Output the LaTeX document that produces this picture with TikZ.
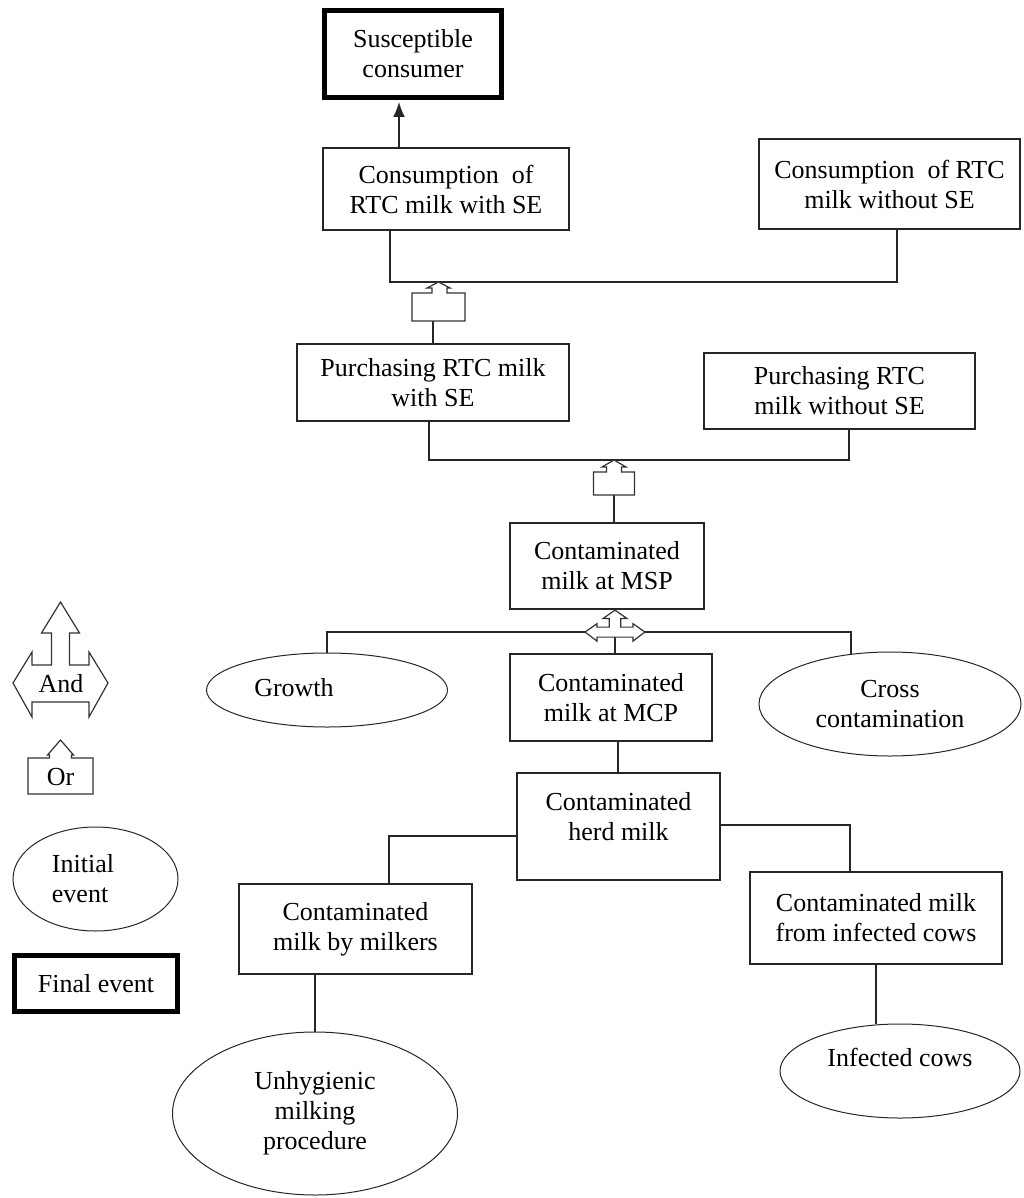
\documentclass[tikz,border=0pt]{standalone}
\usepackage{fontspec}
\setmainfont{Liberation Serif}
\usetikzlibrary{shapes.geometric,arrows.meta,calc}
\begin{document}
\begin{tikzpicture}[x=1pt,y=-1pt,
  every node/.style={font=\fontsize{26}{30}\selectfont, align=center, inner sep=0pt, text=black},
  box/.style={draw=black!85, line width=1.5pt, rectangle},
  finalbox/.style={draw=black, line width=5pt, rectangle},
  ell/.style={draw=black!85, line width=1pt, ellipse},
  conn/.style={draw=black!85, line width=1.6pt},
  gate/.style={draw=black!80, line width=1.2pt, fill=white, line join=miter}
]
\useasboundingbox (0,0) rectangle (1024,1198);

% ---------- nodes ----------
\node[finalbox, minimum width=177, minimum height=87] (sc) at (413,54) {Susceptible\\consumer};
\node[box, minimum width=246, minimum height=82] (c1) at (446,189) {Consumption\ \ of\\RTC milk with SE};
\node[box, minimum width=261, minimum height=90] (c2) at (889.5,184) {Consumption\ \ of RTC\\milk without SE};
\node[box, minimum width=272, minimum height=77] (p1) at (433,382.5) {Purchasing RTC milk\\with SE};
\node[box, minimum width=271, minimum height=76] (p2) at (839.5,391) {Purchasing RTC\\milk without SE};
\node[box, minimum width=194, minimum height=86] (msp) at (607,566) {Contaminated\\milk at MSP};
\node[box, minimum width=202, minimum height=87] (mcp) at (611,697.5) {Contaminated\\milk at MCP};
\node[box, minimum width=203, minimum height=107,
      label={[yshift=10pt]center:Contaminated\\herd milk}] (herd) at (618.5,826.5) {};
\node[box, minimum width=233, minimum height=90] (milk1) at (355.5,929) {Contaminated\\milk by milkers};
\node[box, minimum width=252, minimum height=92] (milk2) at (876,918) {Contaminated milk\\from infected cows};

\node[ell, minimum width=241, minimum height=74,
      label={[xshift=-33pt, yshift=2pt]center:Growth}] (growth) at (327,690) {};
\node[ell, minimum width=262, minimum height=104] (cross) at (890,704) {Cross\\contamination};
\node[ell, minimum width=285, minimum height=163] (unhyg) at (315,1113.5) {Unhygienic\\milking\\procedure};
\node[ell, minimum width=240, minimum height=94,
      label={[yshift=14pt]center:Infected cows}] (inf) at (900,1071) {};

% ---------- gate positions ----------
\coordinate (xa) at (399,0);
\coordinate (xh) at (618,0);
\coordinate (g1) at (438.5,282);
\coordinate (g1bot) at (438.5,321);
\coordinate (g2) at (614,460);
\coordinate (g2bot) at (614,495);
\coordinate (g3) at (615,632);
\coordinate (g3bot) at (615,637);

% ---------- connectors ----------
\draw[conn, -{Latex[length=15pt,width=12pt]}, shorten >=2pt] (c1.north -| xa) -- (sc.south -| xa);
\draw[conn] ([xshift=-56pt]c1.south) |- (g1) -| ([xshift=7.5pt]c2.south);
\draw[conn] (p1.north |- g1bot) -- (p1.north);
\draw[conn] ([xshift=-4pt]p1.south) |- (g2) -| ([xshift=9.5pt]p2.south);
\draw[conn] (g2bot) -- (g2bot |- msp.north);
\draw[conn] (growth.north) |- (g3) -| (cross.128);
\draw[conn] (g3bot) -- (g3bot |- mcp.north);
\draw[conn] (mcp.south -| xh) -- (herd.north -| xh);
\draw[conn] ([yshift=-9.5pt]herd.west) -| ([xshift=33.5pt]milk1.north);
\draw[conn] ([yshift=1.5pt]herd.east) -| ([xshift=-26pt]milk2.north);
\draw[conn] (milk1.south -| unhyg.north) -- (unhyg.north);
\draw[conn] (milk2.south) -- (milk2.south |- inf.north);

% ---------- Or gate 1 ----------
\begin{scope}[shift={(438.5,293)}]
\draw[gate] (-6.5,0) -- (-26.5,0) -- (-26.5,28) -- (26.5,28) -- (26.5,0) -- (8.5,0)
  -- (8.5,-5) -- (11.5,-5) -- (0,-11) -- (-11.5,-5) -- (-6.5,-5) -- cycle;
\end{scope}
% ---------- Or gate 2 ----------
\begin{scope}[shift={(614,472)}]
\draw[gate] (-7.5,0) -- (-20.5,0) -- (-20.5,23) -- (20.5,23) -- (20.5,0) -- (7.5,0)
  -- (7.5,-5) -- (12,-5) -- (0,-12) -- (-12,-5) -- (-7.5,-5) -- cycle;
\end{scope}
% ---------- And gate (main) ----------
\begin{scope}[shift={(615,632)}, xscale=0.63, yscale=0.27]
\draw[gate] (0,-81) -- (19,-50) -- (9,-50) -- (9,-18) -- (28.5,-18) -- (28.5,-31) -- (47.5,0)
  -- (28.5,34) -- (28.5,19) -- (-28.5,19) -- (-28.5,34) -- (-47.5,0) -- (-28.5,-31)
  -- (-28.5,-18) -- (-9,-18) -- (-9,-50) -- (-19,-50) -- cycle;
\end{scope}

% ---------- Legend ----------
\begin{scope}[shift={(60.5,683)}]
\draw[gate] (0,-81) -- (19,-50) -- (9,-50) -- (9,-18) -- (28.5,-18) -- (28.5,-31) -- (47.5,0)
  -- (28.5,34) -- (28.5,19) -- (-28.5,19) -- (-28.5,34) -- (-47.5,0) -- (-28.5,-31)
  -- (-28.5,-18) -- (-9,-18) -- (-9,-50) -- (-19,-50) -- cycle;
\end{scope}
\node (andtxt) at (61,684) {And};
\begin{scope}[shift={(60.5,758)}]
\draw[gate] (-11,0) -- (-32.5,0) -- (-32.5,36) -- (32.5,36) -- (32.5,0) -- (11,0)
  -- (11,-3) -- (13,-3) -- (0,-18) -- (-13,-3) -- (-11,-3) -- cycle;
\end{scope}
\node (ortxt) at (60.5,777) {Or};
\node[ell, minimum width=165, minimum height=104,
      label={[xshift=-12.5pt, align=left]center:Initial\\event}] (initleg) at (95.5,879) {};
\node[finalbox, minimum width=163, minimum height=56] (finalleg) at (96,983.5) {Final event};
\end{tikzpicture}
\end{document}
